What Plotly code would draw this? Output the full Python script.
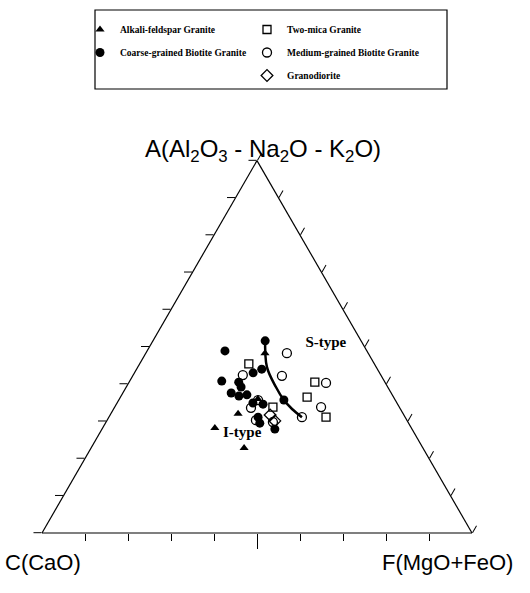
import plotly.graph_objects as go

# ternary coordinates: a = A(Al2O3-Na2O-K2O), b = C(CaO), c = F(MgO+FeO)
alk_a = [0.483, 0.320, 0.282, 0.228, 0.360]
alk_b = [0.240, 0.384, 0.457, 0.416, 0.318]
alk_c = [0.277, 0.296, 0.261, 0.356, 0.322]

coarse_a = [0.489, 0.516, 0.430, 0.440, 0.408, 0.405, 0.392, 0.376, 0.368, 0.371, 0.349, 0.346, 0.357, 0.311, 0.295, 0.279]
coarse_b = [0.330, 0.223, 0.294, 0.269, 0.378, 0.340, 0.341, 0.372, 0.358, 0.338, 0.335, 0.313, 0.259, 0.342, 0.346, 0.319]
coarse_c = [0.181, 0.261, 0.276, 0.291, 0.214, 0.255, 0.267, 0.252, 0.274, 0.291, 0.316, 0.341, 0.384, 0.347, 0.359, 0.402]

twomica_a = [0.454, 0.405, 0.365, 0.311, 0.338]
twomica_b = [0.292, 0.163, 0.201, 0.184, 0.294]
twomica_c = [0.254, 0.432, 0.434, 0.505, 0.368]

medium_a = [0.483, 0.422, 0.424, 0.403, 0.338, 0.311, 0.336, 0.357, 0.298, 0.303]
medium_b = [0.189, 0.231, 0.321, 0.138, 0.182, 0.240, 0.346, 0.319, 0.314, 0.351]
medium_c = [0.328, 0.347, 0.255, 0.459, 0.480, 0.449, 0.318, 0.324, 0.388, 0.346]

grano_a = [0.317, 0.301]
grano_b = [0.311, 0.308]
grano_c = [0.372, 0.391]

curve_a = [0.524, 0.446, 0.392, 0.357, 0.333, 0.311]
curve_b = [0.219, 0.254, 0.260, 0.259, 0.252, 0.240]
curve_c = [0.257, 0.300, 0.348, 0.384, 0.415, 0.449]

label_text = ["S-type", "I-type"]
label_a = [0.510, 0.269]
label_b = [0.085, 0.400]
label_c = [0.405, 0.331]

# tick positions along the bottom (C-F) edge
bottom_major_ticks = [0.5]
bottom_minor_ticks = [0.1, 0.2, 0.3, 0.4, 0.6, 0.7, 0.8, 0.9]

W, H = 530, 593
X0, X1 = 42, 472          # triangle base (px)
YB, YT = 533, 160.6       # base and apex (px)

fig = go.Figure()

mk_line = dict(color="black", width=1.3)
fig.add_trace(go.Scatterternary(a=alk_a, b=alk_b, c=alk_c, mode="markers",
    name="Alkali-feldspar Granite", legend="legend", legendgroup="g1",
    marker=dict(symbol="triangle-up", size=8, color="black", line=dict(width=0))))
fig.add_trace(go.Scatterternary(a=coarse_a, b=coarse_b, c=coarse_c, mode="markers",
    name="Coarse-grained Biotite Granite", legend="legend", legendgroup="g2",
    marker=dict(symbol="circle", size=9, color="black", line=dict(width=0))))
fig.add_trace(go.Scatterternary(a=twomica_a, b=twomica_b, c=twomica_c, mode="markers",
    name="Two-mica Granite", legend="legend2", legendgroup="g3",
    marker=dict(symbol="square-open", size=8, color="black", line=mk_line)))
fig.add_trace(go.Scatterternary(a=medium_a, b=medium_b, c=medium_c, mode="markers",
    name="Medium-grained Biotite Granite", legend="legend2", legendgroup="g4",
    marker=dict(symbol="circle-open", size=9, color="black", line=mk_line)))
fig.add_trace(go.Scatterternary(a=grano_a, b=grano_b, c=grano_c, mode="markers",
    name="Granodiorite", legend="legend2", legendgroup="g5",
    marker=dict(symbol="diamond-open", size=9, color="black", line=mk_line)))
fig.add_trace(go.Scatterternary(a=curve_a, b=curve_b, c=curve_c, mode="lines",
    showlegend=False, line=dict(color="black", width=2.5, shape="spline")))
fig.add_trace(go.Scatterternary(a=label_a, b=label_b, c=label_c, mode="text",
    text=label_text, showlegend=False,
    textfont=dict(family="Liberation Serif", size=15, color="black", weight="bold")))
# empty cartesian trace so the overlay axis (bottom ticks) is drawn
fig.add_trace(go.Scatter(x=[], y=[], showlegend=False, hoverinfo="skip"))

axis_style = dict(showgrid=False, showticklabels=False, ticks="outside", ticklen=8,
                  tickwidth=1, tickcolor="black", linecolor="black", linewidth=1.2,
                  dtick=0.1, tick0=0, title=dict(text=""))
baxis_style = dict(axis_style, ticks="")

leg_font = dict(family="Liberation Serif", size=9.5, color="black", weight="bold")
fig.update_layout(
    width=W, height=H,
    margin=dict(l=0, r=0, t=0, b=0),
    paper_bgcolor="white", plot_bgcolor="rgba(0,0,0,0)",
    ternary=dict(
        domain=dict(x=[X0 / W, X1 / W], y=[(H - YB) / H, (H - YT) / H]),
        bgcolor="white", sum=1,
        aaxis=axis_style, baxis=baxis_style, caxis=axis_style,
    ),
    xaxis=dict(domain=[X0 / W, X1 / W], range=[0, 1], showgrid=False, zeroline=False,
               showline=False, showticklabels=False, ticks="outside",
               tickmode="array", tickvals=bottom_major_ticks, ticklen=15,
               tickwidth=1, tickcolor="black", fixedrange=True,
               minor=dict(tickmode="array", tickvals=bottom_minor_ticks, ticks="outside",
                          ticklen=7, tickwidth=1, tickcolor="black")),
    yaxis=dict(domain=[(H - YB) / H, (H - YT) / H], range=[0, 1], visible=False,
               fixedrange=True),
    legend=dict(x=80 / W, y=1 - 15 / H, xanchor="left", yanchor="top",
                font=leg_font, bgcolor="rgba(0,0,0,0)", itemwidth=30,
                traceorder="grouped", tracegroupgap=4),
    legend2=dict(x=247 / W, y=1 - 15 / H, xanchor="left", yanchor="top",
                 font=leg_font, bgcolor="rgba(0,0,0,0)", itemwidth=30,
                 traceorder="grouped", tracegroupgap=4),
    shapes=[dict(type="rect", xref="paper", yref="paper",
                 x0=95 / W, x1=447 / W, y0=1 - 89 / H, y1=1 - 10 / H,
                 line=dict(color="black", width=1.2))],
    annotations=[
        dict(text="A(Al<sub>2</sub>O<sub>3</sub> - Na<sub>2</sub>O - K<sub>2</sub>O)",
             x=263 / W, y=1 - 133 / H, xref="paper", yref="paper", showarrow=False,
             font=dict(family="Liberation Sans", size=24, color="black")),
        dict(text="C(CaO)", x=3 / W, y=1 - 577 / H, xref="paper", yref="paper",
             xanchor="left", showarrow=False,
             font=dict(family="Liberation Sans", size=22, color="black")),
        dict(text="F(MgO+FeO)", x=515 / W, y=1 - 577 / H, xref="paper", yref="paper",
             xanchor="right", showarrow=False,
             font=dict(family="Liberation Sans", size=22, color="black")),
    ],
)

fig.write_html("out.html")
